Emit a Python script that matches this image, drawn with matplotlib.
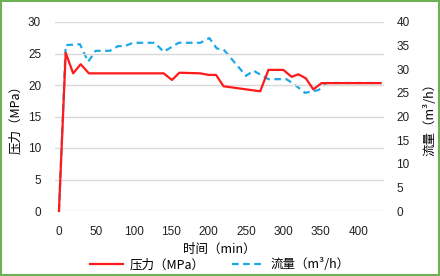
import matplotlib
matplotlib.use("Agg")
import matplotlib.pyplot as plt
from matplotlib.patches import Rectangle

plt.rcParams['font.family'] = ['Liberation Sans', 'Noto Sans CJK SC', 'DejaVu Sans']

# Pressure series (MPa)
p_time = [0, 9, 19, 29, 40, 140, 151, 161, 189, 200, 210, 220, 269, 280, 300, 311, 320, 330, 340, 351, 430]
p_vals = [0, 25.1, 21.85, 23.3, 21.85, 21.85, 20.8, 21.95, 21.85, 21.6, 21.6, 19.8, 19.0, 22.4, 22.4, 21.3, 21.7, 21.06, 19.3, 20.3, 20.3]

# Flow series (m3/h)
q_time = [0, 9, 28, 39, 49, 68, 79, 88, 99, 128, 140, 160, 189, 201, 211, 220, 250, 260, 280, 304, 313, 329, 347, 358, 430]
q_vals = [0, 35.1, 35.3, 31.6, 33.9, 33.9, 34.9, 34.9, 35.6, 35.6, 33.7, 35.6, 35.6, 36.6, 34.4, 34.2, 28.6, 29.7, 27.9, 27.9, 27.0, 25.0, 25.6, 27.1, 27.1]

left_ticks = [0, 5, 10, 15, 20, 25, 30]
right_ticks = [0, 5, 10, 15, 20, 25, 30, 35, 40]
x_ticks = [0, 50, 100, 150, 200, 250, 300, 350, 400]

cjk = ['Noto Sans CJK SC', 'DejaVu Sans']

fig = plt.figure(figsize=(4.4, 2.76), dpi=100)
ax = fig.add_axes([55/440, 1-211/276, (384-55)/440, (211-22)/276])
ax2 = ax.twinx()

ax.set_xlim(-5.3, 434.5)
ax.set_ylim(0, 30)
ax2.set_ylim(0, 40)

ax.set_yticks(left_ticks)
ax2.set_yticks(right_ticks)
ax.set_xticks(x_ticks)

ax.grid(axis='y', color='#d9d9d9', linewidth=1)
ax.set_axisbelow(True)
for a in (ax, ax2):
    for s in a.spines.values():
        s.set_visible(False)
    a.tick_params(length=0, labelsize=8.5, colors='#222222')
ax.tick_params(axis='y', pad=10)
ax.tick_params(axis='x', pad=11)
ax2.tick_params(axis='y', pad=9)

l2, = ax2.plot(q_time, q_vals, color='#1fa8e8', linewidth=1.6, linestyle=(0, (3, 2)), clip_on=False, zorder=2)
l1, = ax.plot(p_time, p_vals, color='#ff1a1a', linewidth=1.6, clip_on=False, zorder=3)
ax.set_zorder(ax2.get_zorder() + 1)
ax.patch.set_visible(False)

ax.set_ylabel('压力（MPa）', family=cjk, fontsize=9, labelpad=4)
ax2.set_ylabel('流量（m³/h）', family=cjk, fontsize=9, rotation=90, labelpad=10)
ax.set_xlabel('时间（min）', family=cjk, fontsize=9, labelpad=3)

leg = fig.legend([l1, l2], ['压力（MPa）', '流量（m³/h）'], loc='center', bbox_to_anchor=(0.5, 1-265/276),
                 ncol=2, frameon=False, prop={'family': cjk, 'size': 9}, handlelength=2.6,
                 columnspacing=2.2, handletextpad=0.5, borderaxespad=0)

fig.patches.append(Rectangle((0.0015, 0.002), 0.997, 0.996, transform=fig.transFigure,
                             fill=False, edgecolor='#6db056', linewidth=1.5))

fig.savefig('out.png', dpi=100)
